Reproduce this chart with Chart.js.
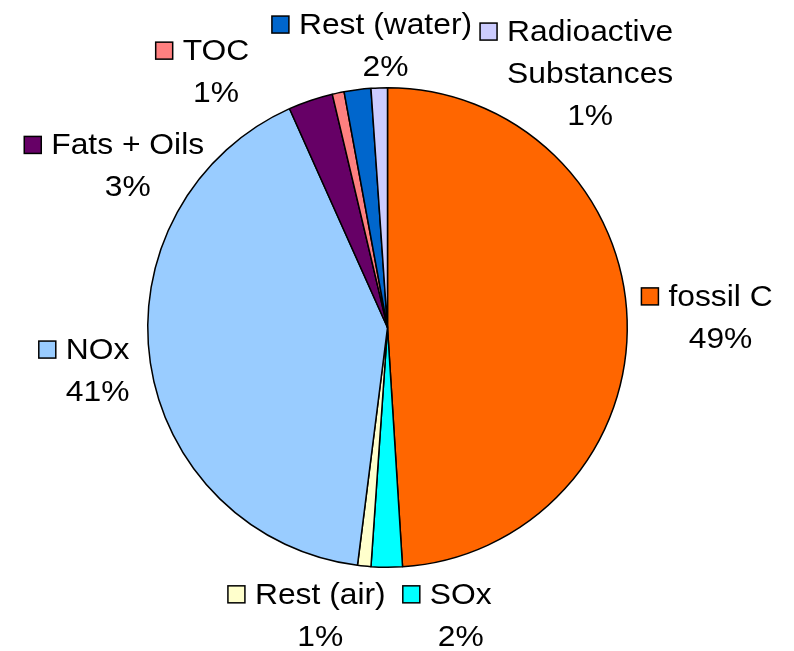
<!DOCTYPE html>
<html lang="en">
<head>
<meta charset="UTF-8">
<title>Emissions pie</title>
<style>
  body { margin: 0; background: #fff; }
  canvas { display: block; }
</style>
</head>
<body>
<canvas id="myChart" width="794" height="651"></canvas>

<script src="https://cdn.jsdelivr.net/npm/chart.js"></script>
<script>
  // slices, clockwise from 12 o'clock
  const categories = ['fossil C', 'SOx', 'Rest (air)', 'NOx', 'Fats + Oils', 'TOC', 'Rest (water)', 'Radioactive Substances'];
  const shares = [49.0, 2.1, 0.9, 41.3, 3.0, 0.8, 1.8, 1.1];
  const percentLabels = ['49%', '2%', '1%', '41%', '3%', '1%', '2%', '1%'];
  const colors = ['#FF6600', '#00FFFF', '#FFFFCC', '#99CCFF', '#660066', '#FF8080', '#0066CC', '#CCCCFF'];

  // label text lines (category may wrap), placed around the pie like Excel did
  const labelLines = [['fossil C'], ['SOx'], ['Rest (air)'], ['NOx'], ['Fats + Oils'], ['TOC'], ['Rest (water)'], ['Radioactive', 'Substances']];
  // column centre / first line centre, relative to pie centre, in units of radius
  const labelSpots = [
    [332, -30], [73, 267], [-67, 267], [-289, 23],
    [-259, -181], [-171, -275], [-2, -301], [202, -294]
  ].map(p => [p[0] / 239, p[1] / 239]);

  const labelPlugin = {
    id: 'sliceLabels',
    afterDraw(chart) {
      const c = chart.ctx;
      const arcs = chart.getDatasetMeta(0).data;
      const fontPx = 30, stretch = 1.06, lineH = 42, box = 17;
      c.save();
      c.font = fontPx + 'px "Liberation Sans", Arial, sans-serif';
      c.textBaseline = 'middle';
      c.fillStyle = '#000';
      arcs.forEach((arc, i) => {
        const r = arc.outerRadius;
        const cx = arc.x + labelSpots[i][0] * r;
        let cy = arc.y + labelSpots[i][1] * r;
        const lines = labelLines[i].concat([percentLabels[i]]);
        lines.forEach((txt, j) => {
          const w = c.measureText(txt).width * stretch;
          const y = cy + j * lineH;
          c.save();
          c.translate(cx - w / 2, y);
          c.scale(stretch, 1);
          c.textAlign = 'left';
          c.fillText(txt, 0, 0);
          c.restore();
          if (j === 0) {
            const bx = cx - w / 2 - box - 10;
            c.fillStyle = colors[i];
            c.fillRect(bx, y - box / 2 - 1, box, box);
            c.lineWidth = 1.5;
            c.strokeStyle = '#000';
            c.strokeRect(bx, y - box / 2 - 1, box, box);
            c.fillStyle = '#000';
          }
        });
      });
      c.restore();
    }
  };

  const ctx = document.getElementById('myChart');
  const emissionChart = new Chart(ctx, {
    type: 'pie',
    data: {
      labels: categories,
      datasets: [{
        data: shares,
        backgroundColor: colors,
        borderColor: '#000',
        borderWidth: 1.5
      }]
    },
    options: {
      responsive: false,
      animation: false,
      layout: { padding: { left: 147, right: 166, top: 87, bottom: 83 } },
      plugins: {
        legend: { display: false },
        tooltip: { enabled: false }
      }
    },
    plugins: [labelPlugin]
  });
</script>
</body>
</html>
